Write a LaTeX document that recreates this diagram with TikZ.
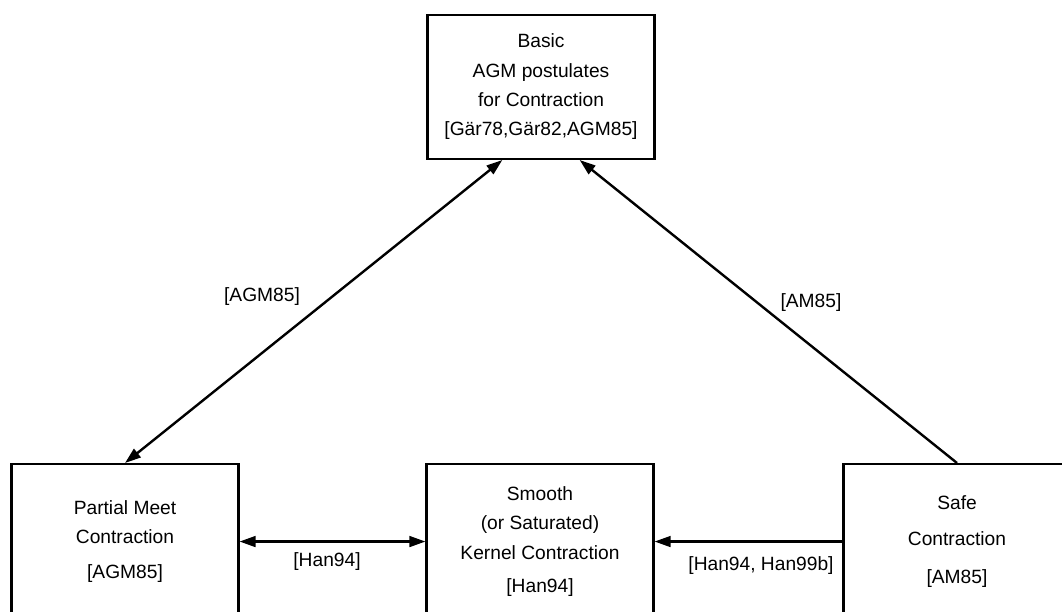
\documentclass[tikz,border=0pt]{standalone}
\usepackage{fontspec}
\setmainfont{Liberation Sans}
\usetikzlibrary{arrows.meta}

\tikzstyle{block} = [rectangle, draw=black, line width=1.8pt, minimum width=170pt, text centered, align=center, font=\fontsize{14.4pt}{22pt}\selectfont]
\tikzstyle{lowblock} = [block, minimum height=116pt, anchor=north]
\tikzstyle{cite} = [font=\fontsize{14.4pt}{22pt}\selectfont]

\begin{document}
\begin{tikzpicture}[x=0.75pt, y=-0.75pt, >={Triangle[length=12pt,width=8pt]}, line width=1.8pt]
\useasboundingbox (0,0) rectangle (1062,611);
\clip (0,0) rectangle (1062,611);

\node (basic) [block, minimum height=108pt, anchor=south] at (541,160) {Basic\\AGM postulates\\for Contraction\\{[Gär78,Gär82,AGM85]}};

\node (partial) [lowblock] at (125,463) {Partial Meet\\Contraction\\[4pt]{[AGM85]}};

\node (smooth) [lowblock] at (540,463) {Smooth\\(or Saturated)\\Kernel Contraction\\[3pt]{[Han94]}};

\node (safe) [lowblock] at (957,463) {Safe\\[5pt]Contraction\\[6pt]{[AM85]}};

\node (citeagm) [cite] at (262,297) {[AGM85]};
\node (citeam) [cite] at (811,303) {[AM85]};
\node (citehan) [cite] at (327,562) {[Han94]};
\node (citehanb) [cite] at (761,566) {[Han94, Han99b]};

\draw [<->] (partial.north) -- ([xshift=-29pt]basic.south);
\draw [->] (safe.north) -- ([xshift=29pt]basic.south);
\draw [<->] (partial.east) -- (smooth.west);
\draw [->] (safe.west) -- (smooth.east);
\end{tikzpicture}
\end{document}
